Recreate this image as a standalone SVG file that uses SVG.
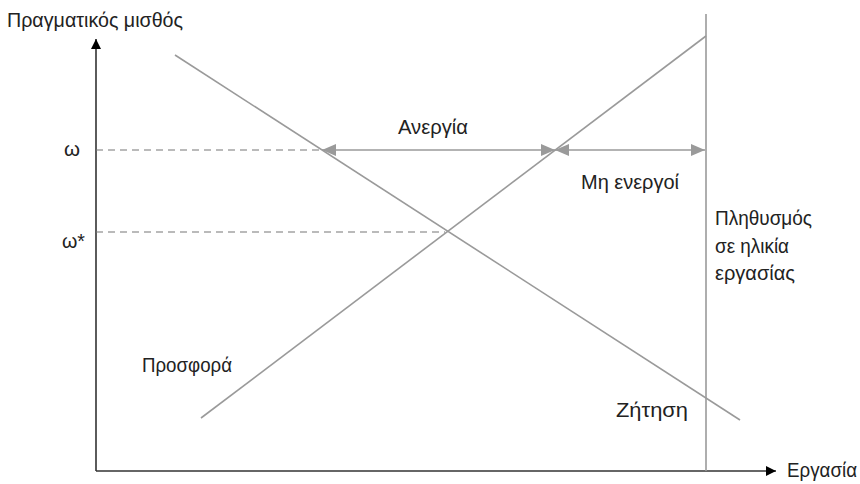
<svg xmlns="http://www.w3.org/2000/svg" width="860" height="484" viewBox="0 0 860 484">
<defs>
<style>
text{font-family:"Liberation Sans","DejaVu Sans",sans-serif;font-size:20px;fill:#222}
.curve{stroke:#9a9a9a;stroke-width:1.6;fill:none}
.axis{stroke:#333;stroke-width:1.6;fill:none}
.dash{stroke:#777;stroke-width:1.2;stroke-dasharray:7,5;fill:none}
.gar{stroke:#9a9a9a;stroke-width:1.6;fill:none}
</style>
<marker id="ah" markerWidth="10" markerHeight="10" refX="10" refY="5" orient="auto" markerUnits="userSpaceOnUse" viewBox="0 0 10 10"><path d="M0,0 L10,5 L0,10 z" fill="#000"/></marker>
<marker id="gah" markerWidth="14" markerHeight="12" refX="14" refY="6" orient="auto-start-reverse" markerUnits="userSpaceOnUse" viewBox="0 0 14 12"><path d="M0,0 L14,6 L0,12 z" fill="#9a9a9a"/></marker>
</defs>
<g id="axes">
<line class="axis" x1="96" y1="471" x2="96" y2="39" marker-end="url(#ah)"/>
<line class="axis" x1="96" y1="471" x2="776" y2="471" marker-end="url(#ah)"/>
</g>
<g id="population">
<line class="curve" x1="706" y1="14" x2="706" y2="471"/>
<text x="715" y="225" textLength="97" lengthAdjust="spacingAndGlyphs">Πληθυσμός</text>
<text x="715" y="253" textLength="74" lengthAdjust="spacingAndGlyphs">σε ηλικία</text>
<text x="715" y="280" textLength="80" lengthAdjust="spacingAndGlyphs">εργασίας</text>
</g>
<g id="supply">
<line class="curve" x1="201" y1="418" x2="706" y2="36"/>
<text x="142" y="372" textLength="90" lengthAdjust="spacingAndGlyphs">Προσφορά</text>
</g>
<g id="demand">
<line class="curve" x1="175" y1="55" x2="740" y2="420"/>
<text x="616" y="417" textLength="72" lengthAdjust="spacingAndGlyphs">Ζήτηση</text>
</g>
<g id="connectors">
<line class="dash" x1="96" y1="150" x2="320" y2="150"/>
<line class="dash" x1="96" y1="232" x2="445" y2="232"/>
<line class="gar" x1="322" y1="150" x2="555" y2="150" marker-start="url(#gah)" marker-end="url(#gah)"/>
<line class="gar" x1="555" y1="150" x2="705" y2="150" marker-start="url(#gah)" marker-end="url(#gah)"/>
</g>
<g id="labels">
<text x="7" y="27" textLength="176" lengthAdjust="spacingAndGlyphs">Πραγματικός μισθός</text>
<text x="787" y="477" textLength="70" lengthAdjust="spacingAndGlyphs">Εργασία</text>
<text x="64" y="156" textLength="16" lengthAdjust="spacingAndGlyphs">ω</text>
<text x="62" y="248" textLength="23" lengthAdjust="spacingAndGlyphs">ω*</text>
<text x="398" y="134" textLength="70" lengthAdjust="spacingAndGlyphs">Ανεργία</text>
<text x="581" y="189" textLength="98" lengthAdjust="spacingAndGlyphs">Μη ενεργοί</text>
</g>
</svg>
